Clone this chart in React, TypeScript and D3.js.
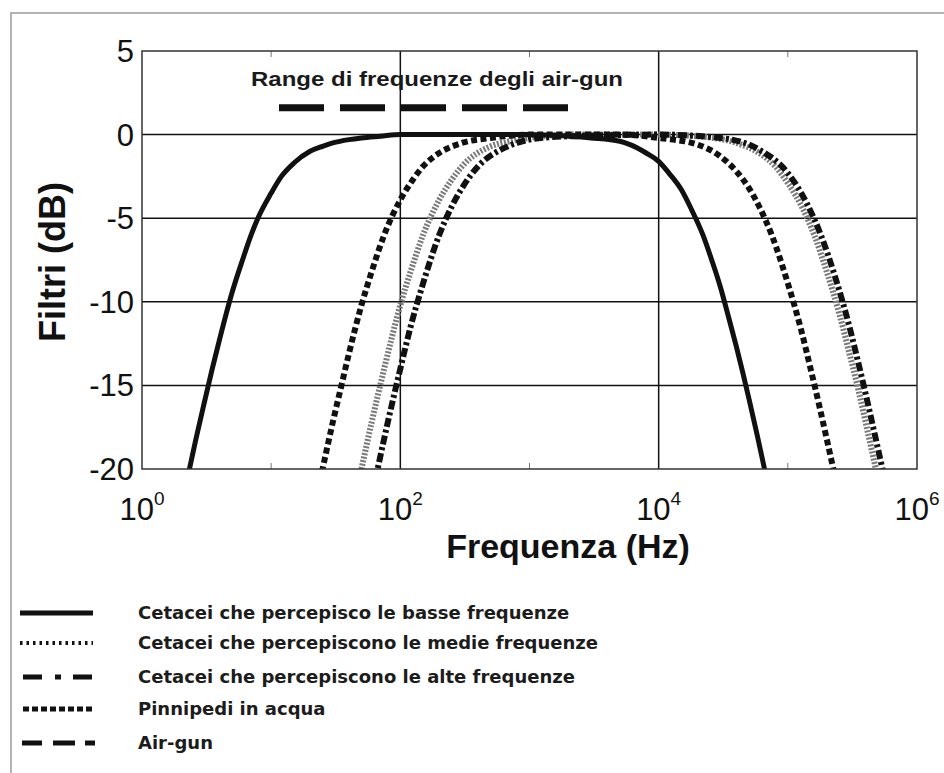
import React, { useRef, useEffect } from 'react';
import * as d3 from 'd3';

// curves (frequency in Hz, filter gain in dB)
const lfFreq = [2.2, 2.3, 2.6, 3, 3.5, 4, 5, 6, 7, 8, 10, 12, 15, 20, 25, 30, 40, 50, 70, 100, 300, 1000, 2000, 3000, 5000, 6000, 8000, 10000, 12000, 15000, 18000, 22000, 26000, 30000, 35000, 40000, 45000, 50000, 58000, 66000, 70000];
const lfGain = [-20.9, -20.2, -18.3, -16.2, -14.0, -12.2, -9.4, -7.5, -6.0, -4.9, -3.5, -2.5, -1.7, -1.0, -0.7, -0.5, -0.3, -0.2, -0.1, 0, 0, 0, -0.1, -0.2, -0.4, -0.6, -1.1, -1.6, -2.3, -3.3, -4.5, -6.0, -7.6, -9.1, -11.0, -12.7, -14.3, -15.8, -18.0, -20.0, -20.9];

const mfFreq = [45, 50, 60, 75, 100, 120, 150, 200, 250, 300, 500, 700, 1000, 2000, 10000, 20000, 40000, 60000, 80000, 100000, 130000, 160000, 200000, 250000, 300000, 350000, 400000, 480000, 520000];
const mfGain = [-21.7, -20.0, -17.2, -14.0, -10.2, -8.2, -6.0, -3.9, -2.7, -1.9, -0.7, -0.4, -0.2, 0, 0, -0.1, -0.5, -1.1, -1.9, -2.9, -4.4, -6.0, -8.2, -10.7, -13.1, -15.2, -17.2, -20.0, -21.3];

const hfFreq = [60, 66.7, 80, 100, 120, 150, 200, 250, 300, 400, 600, 800, 1000, 2000, 10000, 30000, 60000, 100000, 140000, 180000, 230000, 300000, 350000, 400000, 470000, 540000, 580000];
const hfGain = [-21.7, -20.0, -17.2, -14.0, -11.5, -8.9, -6.0, -4.3, -3.2, -1.9, -0.9, -0.5, -0.3, -0.1, 0, -0.2, -0.9, -2.3, -4.1, -6.0, -8.4, -11.5, -13.6, -15.5, -17.9, -20.0, -21.1];

const pwFreq = [23, 25, 30, 35, 40, 50, 60, 75, 100, 125, 150, 200, 300, 500, 1000, 5000, 10000, 20000, 30000, 40000, 50000, 60000, 75000, 100000, 125000, 150000, 175000, 200000, 225000, 240000];
const pwGain = [-21.3, -20.0, -17.2, -15.0, -13.1, -10.2, -8.2, -6.0, -3.9, -2.7, -1.9, -1.1, -0.5, -0.2, 0, 0, -0.2, -0.6, -1.3, -2.2, -3.2, -4.3, -6.0, -8.9, -11.5, -14.0, -16.2, -18.2, -20.0, -21.0];

// air-gun frequency range marker
const airFreq = [11.5, 2000];
const airGain = [1.6, 1.6];

const yTicks = [5, 0, -5, -10, -15, -20];
const yGrid = [0, -5, -10, -15];
const xTickExp = [0, 2, 4, 6];
const xGrid = [1e2, 1e4];
const xMinor = [1e1, 1e3, 1e5];

const legendLabels = [
  'Cetacei che percepisco le basse frequenze',
  'Cetacei che percepiscono le medie frequenze',
  'Cetacei che percepiscono le alte frequenze',
  'Pinnipedi in acqua',
  'Air-gun',
];

const App = () => {
  const svgRef = useRef<SVGSVGElement>(null);

  useEffect(() => {
    const svg = d3.select(svgRef.current);
    svg.selectAll('*').remove();

    const x = d3.scaleLog().domain([1, 1e6]).range([142, 917]);
    const y = d3.scaleLinear().domain([-20, 5]).range([469, 51]);
    const [x0, x1] = x.range();
    const [y0, y1] = y.range();

    // outer picture frame
    svg.append('path')
      .attr('d', 'M11,773 L11,13 L944,13')
      .attr('fill', 'none')
      .attr('stroke', '#9a9a9a')
      .attr('stroke-width', 1.5);

    svg.append('defs').append('clipPath').attr('id', 'plotclip')
      .append('rect')
      .attr('x', x0).attr('y', y1)
      .attr('width', x1 - x0).attr('height', y0 - y1);

    // grid
    const grid = svg.append('g').attr('stroke', '#111').attr('stroke-width', 1.5);
    grid.selectAll('.hg').data(yGrid).join('line')
      .attr('x1', x0).attr('x2', x1)
      .attr('y1', d => y(d)).attr('y2', d => y(d));
    grid.selectAll('.vg').data(xGrid).join('line')
      .attr('x1', d => x(d)).attr('x2', d => x(d))
      .attr('y1', y0).attr('y2', y1);

    // minor ticks top and bottom
    const ticks = svg.append('g').attr('stroke', '#777').attr('stroke-width', 1);
    ticks.selectAll('.tb').data(xMinor).join('line')
      .attr('x1', d => x(d)).attr('x2', d => x(d))
      .attr('y1', y0).attr('y2', y0 - 6);
    ticks.selectAll('.tt').data(xMinor).join('line')
      .attr('x1', d => x(d)).attr('x2', d => x(d))
      .attr('y1', y1).attr('y2', y1 + 6);

    const series = [
      { freq: mfFreq, gain: mfGain, stroke: '#7a7a7a', width: 6, dash: '2,1.6' },
      { freq: pwFreq, gain: pwGain, stroke: '#111', width: 6, dash: '6,3.5' },
      { freq: hfFreq, gain: hfGain, stroke: '#111', width: 6, dash: '9,3,3,3' },
      { freq: lfFreq, gain: lfGain, stroke: '#111', width: 5, dash: null },
    ];

    const lineGen = d3.line<[number, number]>()
      .x(d => x(d[0]))
      .y(d => y(d[1]))
      .curve(d3.curveMonotoneX);

    const curves = svg.append('g').attr('clip-path', 'url(#plotclip)');
    series.forEach(s => {
      const pts = s.freq.map((f, i) => [f, s.gain[i]] as [number, number]);
      curves.append('path')
        .attr('d', lineGen(pts))
        .attr('fill', 'none')
        .attr('stroke', s.stroke)
        .attr('stroke-width', s.width)
        .attr('stroke-dasharray', s.dash)
        .attr('stroke-linejoin', 'round');
    });

    // air-gun range
    svg.append('path')
      .attr('d', d3.line<number>().x(d => x(d)).y((d, i) => y(airGain[i]))(airFreq))
      .attr('fill', 'none')
      .attr('stroke', '#111')
      .attr('stroke-width', 7)
      .attr('stroke-dasharray', '45,16');

    svg.append('text')
      .attr('x', 437).attr('y', 86)
      .attr('text-anchor', 'middle')
      .attr('font-family', 'Liberation Sans, Arial, sans-serif')
      .attr('font-weight', 'bold')
      .attr('font-size', 21)
      .attr('fill', '#1a1a1a')
      .attr('textLength', 372)
      .attr('lengthAdjust', 'spacingAndGlyphs')
      .text('Range di frequenze degli air-gun');

    // plot box
    svg.append('rect')
      .attr('x', x0).attr('y', y1)
      .attr('width', x1 - x0).attr('height', y0 - y1)
      .attr('fill', 'none')
      .attr('stroke', '#333')
      .attr('stroke-width', 1.5);

    // y tick labels
    svg.selectAll('.yt').data(yTicks).join('text')
      .attr('x', 134)
      .attr('y', d => y(d) + 11)
      .attr('text-anchor', 'end')
      .attr('font-family', 'Liberation Sans, Arial, sans-serif')
      .attr('font-size', 31)
      .attr('fill', '#111')
      .text(d => String(d));

    // x tick labels 10^n
    const xl = svg.selectAll('.xt').data(xTickExp).join('text')
      .attr('x', d => x(Math.pow(10, d)))
      .attr('y', 520)
      .attr('text-anchor', 'middle')
      .attr('font-family', 'Liberation Sans, Arial, sans-serif')
      .attr('font-size', 31)
      .attr('fill', '#111');
    xl.append('tspan').text('10');
    xl.append('tspan').attr('dy', -15).attr('font-size', 19).text(d => String(d));

    svg.append('text')
      .attr('x', 568).attr('y', 558)
      .attr('text-anchor', 'middle')
      .attr('font-family', 'Liberation Sans, Arial, sans-serif')
      .attr('font-weight', 'bold')
      .attr('font-size', 34)
      .attr('fill', '#111')
      .text('Frequenza (Hz)');

    svg.append('text')
      .attr('transform', 'translate(65,262) rotate(-90)')
      .attr('text-anchor', 'middle')
      .attr('font-family', 'Liberation Sans, Arial, sans-serif')
      .attr('font-weight', 'bold')
      .attr('font-size', 36)
      .attr('fill', '#111')
      .text('Filtri (dB)');

    // legend
    const legendRows = [613, 643, 677, 709, 743];
    const legendStyle = [
      { dash: null, width: 5, x1: 20, x2: 93, color: '#111' },
      { dash: '2.5,4', width: 4, x1: 20, x2: 93, color: '#111' },
      { dash: '19,13,6,12', width: 5, x1: 23, x2: 92, color: '#111' },
      { dash: '6,3', width: 5, x1: 23, x2: 92, color: '#111' },
      { dash: '20,11,22,10,10', width: 5, x1: 22, x2: 95, color: '#111' },
    ];
    const lg = svg.append('g');
    legendLabels.forEach((label, i) => {
      const st = legendStyle[i];
      lg.append('line')
        .attr('x1', st.x1).attr('x2', st.x2)
        .attr('y1', legendRows[i]).attr('y2', legendRows[i])
        .attr('stroke', st.color)
        .attr('stroke-width', st.width)
        .attr('stroke-dasharray', st.dash);
      lg.append('text')
        .attr('x', 138).attr('y', legendRows[i] + 6)
        .attr('font-family', 'DejaVu Sans, sans-serif')
        .attr('font-weight', 'bold')
        .attr('font-size', 18)
        .attr('fill', '#1c1c1c')
        .text(label);
    });
  }, []);

  return (
    <svg ref={svgRef} width={944} height={773}
      style={{ position: 'absolute', left: 0, top: 0, background: '#fff' }} />
  );
};

export default App;
